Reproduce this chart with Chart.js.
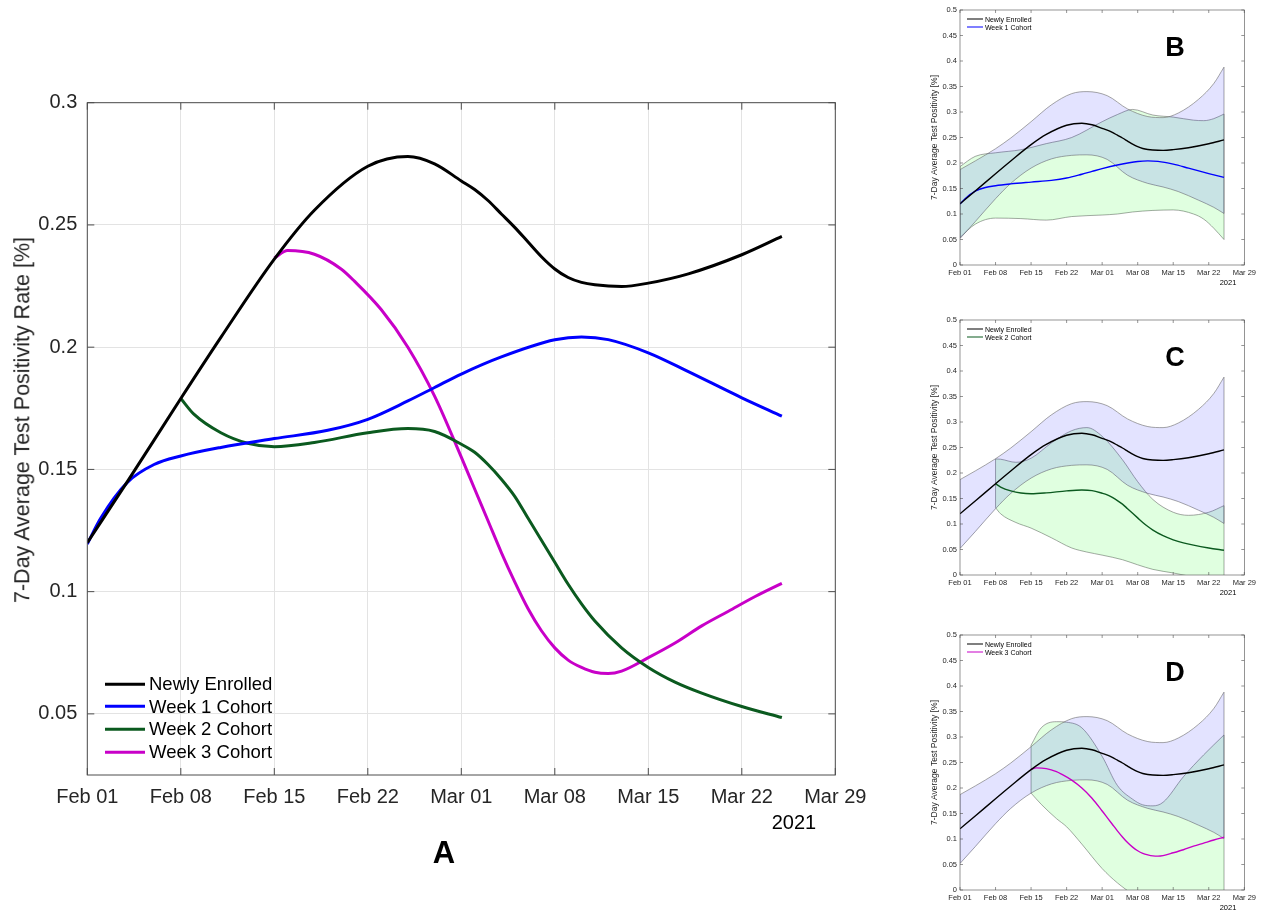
<!DOCTYPE html>
<html>
<head>
<meta charset="utf-8">
<script src="https://cdn.jsdelivr.net/npm/chart.js@4.4.0/dist/chart.umd.min.js"></script>
<style>
  body { margin: 0; width: 1266px; height: 911px; overflow: hidden; background: #fff; position: relative;
         font-family: "Liberation Sans", Arial, Helvetica, sans-serif; color: #000; }
  .box { position: absolute; }
  .txt { position: absolute; white-space: nowrap; line-height: 1; }
  .row { position: absolute; white-space: nowrap; display: flex; align-items: center; line-height: 1; }
  .row span.ln { display: inline-block; }
</style>
</head>
<body>
<div class="box" style="left:0;top:90px"><canvas id="chartA" width="880" height="760"></canvas></div>
<div class="box" style="left:920px;top:0"><canvas id="chartB" width="346" height="300"></canvas></div>
<div class="box" style="left:920px;top:310px"><canvas id="chartC" width="346" height="300"></canvas></div>
<div class="box" style="left:920px;top:625px"><canvas id="chartD" width="346" height="300"></canvas></div>
<div id="labels"></div>

<script>
// day 0 = Feb 01 2021
const tickDays = [0, 7, 14, 21, 28, 35, 42, 49, 56]
const tickLabels = ['Feb 01', 'Feb 08', 'Feb 15', 'Feb 22', 'Mar 01', 'Mar 08', 'Mar 15', 'Mar 22', 'Mar 29']
const mainYTicks = [0.05, 0.1, 0.15, 0.2, 0.25, 0.3]
const panelYTicks = [0, 0.05, 0.1, 0.15, 0.2, 0.25, 0.3, 0.35, 0.4, 0.45, 0.5]

const seriesNames = ['Newly Enrolled', 'Week 1 Cohort', 'Week 2 Cohort', 'Week 3 Cohort']
const seriesColors = ['#000000', '#0000ff', '#0b5a1f', '#c800c8']

// 7-day average test positivity
const enrolledDays = [0, 3, 7, 10, 14, 17, 21, 24, 26, 28, 29, 30, 31, 32, 33, 34, 35, 36, 37, 38, 40, 42, 45, 49, 52]
const enrolledRate = [0.120, 0.145, 0.179, 0.204, 0.236, 0.256, 0.274, 0.278, 0.275, 0.268, 0.2645, 0.260, 0.2545, 0.249, 0.243, 0.237, 0.232, 0.2285, 0.2265, 0.2255, 0.2248, 0.2262, 0.230, 0.2378, 0.2453]

const week1Days = [0, 1, 3, 5, 7, 10, 14, 18, 21, 24, 26, 28, 31, 35, 37, 39, 42, 45, 49, 52]
const week1Rate = [0.1195, 0.130, 0.1447, 0.152, 0.1555, 0.159, 0.1626, 0.166, 0.1705, 0.178, 0.1835, 0.189, 0.196, 0.203, 0.2042, 0.2031, 0.1977, 0.190, 0.1793, 0.1718]

const week2Days = [7, 8, 10, 12, 14, 17, 21, 24, 26, 28, 29, 30, 31, 32, 33, 34, 35, 36, 37, 38, 40, 42, 44, 46, 49, 52]
const week2Rate = [0.179, 0.1725, 0.165, 0.1607, 0.1593, 0.161, 0.165, 0.1667, 0.1655, 0.1603, 0.157, 0.152, 0.146, 0.139, 0.130, 0.121, 0.112, 0.103, 0.095, 0.088, 0.077, 0.069, 0.063, 0.0585, 0.053, 0.0485]

const week3Days = [14, 15, 17, 19, 20, 22, 24, 26, 28, 29, 30, 31, 32, 33, 34, 35, 36, 37, 38, 39, 40, 42, 44, 46, 48, 50, 52]
const week3Rate = [0.2365, 0.2395, 0.238, 0.232, 0.227, 0.2154, 0.200, 0.180, 0.155, 0.142, 0.129, 0.116, 0.104, 0.093, 0.084, 0.077, 0.072, 0.069, 0.067, 0.0665, 0.0675, 0.073, 0.079, 0.086, 0.092, 0.098, 0.1034]

const enrolledBandDays = [0, 3, 7, 10, 14, 18, 22, 25, 29, 33, 37, 40, 43, 47, 50, 52]
const enrolledUpper = [0.187, 0.204, 0.228, 0.249, 0.281, 0.314, 0.336, 0.340, 0.332, 0.306, 0.291, 0.289, 0.298, 0.325, 0.356, 0.388]
const enrolledLower = [0.052, 0.085, 0.130, 0.160, 0.190, 0.208, 0.215, 0.216, 0.207, 0.176, 0.160, 0.153, 0.144, 0.127, 0.113, 0.101]

const week1BandDays = [0, 3, 7, 12, 17, 22, 28, 31, 34, 38, 42, 46, 48, 50, 52]
const week1Upper = [0.193, 0.213, 0.220, 0.226, 0.238, 0.250, 0.281, 0.295, 0.305, 0.294, 0.290, 0.284, 0.283, 0.287, 0.296]
const week1Lower = [0.054, 0.080, 0.092, 0.091, 0.088, 0.095, 0.098, 0.100, 0.104, 0.107, 0.108, 0.100, 0.090, 0.072, 0.050]

const week2BandDays = [7, 8, 11, 14, 18, 22, 25, 28, 32, 35, 38, 42, 45, 49, 52]
const week2Upper = [0.2275, 0.227, 0.221, 0.229, 0.259, 0.283, 0.289, 0.272, 0.226, 0.183, 0.148, 0.123, 0.117, 0.123, 0.136]
const week2Lower = [0.132, 0.120, 0.103, 0.092, 0.073, 0.053, 0.045, 0.039, 0.030, 0.020, 0.011, 0.004, -0.002, -0.010, -0.015]

const week3BandDays = [14, 16, 19, 21, 24, 28, 31, 34, 36, 38, 40, 44, 48, 52]
const week3Upper = [0.284, 0.318, 0.330, 0.329, 0.318, 0.262, 0.205, 0.178, 0.167, 0.165, 0.172, 0.222, 0.265, 0.304]
const week3Lower = [0.190, 0.168, 0.140, 0.124, 0.090, 0.042, 0.014, -0.008, -0.020, -0.030, -0.040, -0.050, -0.050, -0.050]

const seriesDays = [enrolledDays, week1Days, week2Days, week3Days]
const seriesRates = [enrolledRate, week1Rate, week2Rate, week3Rate]
const cohortBands = [
  null,
  [week1BandDays, week1Upper, week1Lower],
  [week2BandDays, week2Upper, week2Lower],
  [week3BandDays, week3Upper, week3Lower],
]

const edgeColor = 'rgba(105,105,105,0.75)'
const fontFamily = '"Liberation Sans", Arial, Helvetica, sans-serif'

// turn day + value arrays into chart points
const toPoints = (days, values) => days.map((d, i) => ({ x: d, y: values[i] }))

const lineDataset = (i, width) => ({
  label: seriesNames[i],
  data: toPoints(seriesDays[i], seriesRates[i]),
  borderColor: seriesColors[i],
  borderWidth: width,
  pointRadius: 0,
  cubicInterpolationMode: 'monotone',
  fill: false,
})

// upper edge filled down to lower edge, plus the two vertical end edges
const bandDatasets = (days, upper, lower, fillColor) => {
  const last = days.length - 1
  const edge = { borderColor: edgeColor, borderWidth: 0.8, pointRadius: 0, fill: false }
  return [
    { ...edge, data: toPoints(days, upper), cubicInterpolationMode: 'monotone', fill: '+1', backgroundColor: fillColor },
    { ...edge, data: toPoints(days, lower), cubicInterpolationMode: 'monotone' },
    { ...edge, data: [{ x: days[0], y: lower[0] }, { x: days[0], y: upper[0] }] },
    { ...edge, data: [{ x: days[last], y: lower[last] }, { x: days[last], y: upper[last] }] },
  ]
}

// axes box with inward tick marks, MATLAB style
const boxPlugin = {
  id: 'box',
  afterDatasetsDraw(chart, args, opts) {
    const { ctx, chartArea: a, scales: { x, y } } = chart
    const len = opts.tickLen
    ctx.save()
    ctx.strokeStyle = '#4d4d4d'
    ctx.lineWidth = opts.lineWidth
    ctx.beginPath()
    x.ticks.forEach(t => {
      const px = x.getPixelForValue(t.value)
      ctx.moveTo(px, a.bottom); ctx.lineTo(px, a.bottom - len)
      ctx.moveTo(px, a.top); ctx.lineTo(px, a.top + len)
    })
    y.ticks.forEach(t => {
      const py = y.getPixelForValue(t.value)
      ctx.moveTo(a.left, py); ctx.lineTo(a.left + len, py)
      ctx.moveTo(a.right, py); ctx.lineTo(a.right - len, py)
    })
    ctx.stroke()
    ctx.strokeRect(a.left, a.top, a.right - a.left, a.bottom - a.top)
    ctx.restore()
  }
}

// shared options for both chart sizes
const chartOptions = (s) => ({
  responsive: false,
  animation: false,
  events: [],
  layout: { padding: { left: 0, right: s.padRight, top: s.padTop, bottom: 0 } },
  plugins: {
    legend: { display: false },
    tooltip: { enabled: false },
    box: { tickLen: s.tickLen, lineWidth: s.boxWidth },
  },
  scales: {
    x: {
      type: 'linear', min: 0, max: 56,
      afterBuildTicks: scale => { scale.ticks = tickDays.map(v => ({ value: v })) },
      afterFit: scale => { scale.height = s.xHeight },
      ticks: {
        callback: v => tickLabels[tickDays.indexOf(v)],
        font: { family: fontFamily, size: s.tickFont }, color: '#262626',
        padding: s.xPad, maxRotation: 0, autoSkip: false,
      },
      grid: { display: s.grid, color: '#e3e3e3', drawTicks: false },
      border: { display: false },
    },
    y: {
      min: s.yMin, max: s.yMax,
      afterBuildTicks: scale => { scale.ticks = s.yTicks.map(v => ({ value: v })) },
      afterFit: scale => {
        scale.width = s.yWidth
        // let layout padding alone decide where the plot box starts
        scale.paddingTop = 0
        scale.paddingBottom = 0
      },
      ticks: {
        callback: v => String(v),
        font: { family: fontFamily, size: s.tickFont }, color: '#262626',
        padding: s.yPad,
      },
      grid: { display: s.grid, color: '#e3e3e3', drawTicks: false },
      border: { display: false },
      title: {
        display: !!s.yTitle, text: s.yTitle, color: '#262626',
        font: { family: fontFamily, size: s.titleFont },
        padding: { top: s.titlePad, bottom: 0 },
      },
    },
  },
})

// HTML text and legend rows built from the series names and colours
const labels = document.getElementById('labels')
const addText = (text, x, y, size, bold, rotate) => {
  const el = document.createElement('div')
  el.className = 'txt'
  el.textContent = text
  el.style.cssText = `left:${x}px;top:${y}px;font-size:${size}px;font-weight:${bold ? 'bold' : 'normal'};color:${rotate ? '#262626' : '#000'};transform:translate(-50%,-50%)${rotate ? ' rotate(-90deg)' : ''}`
  labels.appendChild(el)
}
const addLegend = (items, x, y, step, lineLen, lineW, gap, size) => {
  items.forEach((i, k) => {
    const row = document.createElement('div')
    row.className = 'row'
    row.style.cssText = `left:${x}px;top:${y + k * step}px;font-size:${size}px;transform:translateY(-50%)`
    row.innerHTML = `<span class="ln" style="width:${lineLen}px;height:${lineW}px;background:${seriesColors[i]};margin-right:${gap}px"></span>${seriesNames[i]}`
    labels.appendChild(row)
  })
}

// Panel A: all four series
const mainChart = () => {
  new Chart(document.getElementById('chartA'), {
    type: 'line',
    data: { datasets: [0, 1, 2, 3].map(i => lineDataset(i, 3)) },
    options: chartOptions({
      padRight: 44.7, padTop: 12.7, xHeight: 75, yWidth: 87.3,
      yMin: 0.025, yMax: 0.3, yTicks: mainYTicks, grid: true,
      tickFont: 20, xPad: 10, yPad: 10, tickLen: 7, boxWidth: 1,
      yTitle: '',
    }),
    plugins: [boxPlugin],
  })
  addText('7-Day Average Test Positivity Rate [%]', 23, 420, 21.5, false, true)
  addLegend([0, 1, 2, 3], 105, 684, 22.7, 40, 3, 4, 18.5)
  addText('2021', 794, 822, 20, false)
  addText('A', 444, 852, 31, true)
}

// Panels B, C, D: newly enrolled vs one cohort, with bands
const panels = [
  { id: 'chartB', top: 0, cohort: 1, letter: 'B' },
  { id: 'chartC', top: 310, cohort: 2, letter: 'C' },
  { id: 'chartD', top: 625, cohort: 3, letter: 'D' },
]

const panelChart = (p) => {
  const band = cohortBands[p.cohort]
  const datasets = [
    lineDataset(0, 1.4),
    lineDataset(p.cohort, 1.4),
    ...bandDatasets(enrolledBandDays, enrolledUpper, enrolledLower, 'rgba(0,0,255,0.11)'),
    ...bandDatasets(band[0], band[1], band[2], 'rgba(0,255,0,0.12)'),
  ]
  new Chart(document.getElementById(p.id), {
    type: 'line',
    data: { datasets },
    options: chartOptions({
      padRight: 21.7, padTop: 10, xHeight: 35, yWidth: 40,
      yMin: 0, yMax: 0.5, yTicks: panelYTicks, grid: false,
      tickFont: 7.5, xPad: 3, yPad: 3, tickLen: 3, boxWidth: 0.6,
      yTitle: '7-Day Average Test Positivity [%]', titleFont: 8.5, titlePad: 10,
    }),
    plugins: [boxPlugin],
  })
  addLegend([0, p.cohort], 966.7, p.top + 19, 8.3, 16.7, 1.4, 1.5, 7)
  addText('2021', 1228, p.top + 282.7, 7.5, false)
  addText(p.letter, 1175, p.top + 47, 27, true)
}

mainChart()
panels.forEach(panelChart)
</script>
</body>
</html>
